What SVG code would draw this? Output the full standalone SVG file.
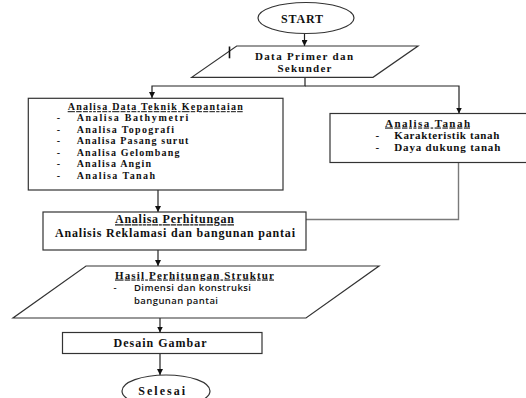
<svg xmlns="http://www.w3.org/2000/svg" width="526" height="398" viewBox="0 0 526 398">
<style>
.shape{fill:#fff;stroke:#333;stroke-width:1.2}
.conn{fill:none;stroke:#222;stroke-width:1.2}
.gray{fill:none;stroke:#7a7a7a;stroke-width:1.4}
.t{font-family:"Liberation Serif","Times New Roman",serif;font-weight:bold;font-size:12px;fill:#111}
.l{font-size:10px}
.m{font-size:11px}
.u{text-decoration:underline}
.s{font-family:"Open Sans","Liberation Sans",sans-serif;font-weight:600;font-size:9.5px;fill:#111}
</style>
<defs>
<marker id="ah" viewBox="0 0 10 10" refX="10" refY="5" markerWidth="6" markerHeight="6" markerUnits="userSpaceOnUse" orient="auto">
<path d="M0,0 L10,5 L0,10 z" fill="#111"/>
</marker>
</defs>
<rect width="526" height="398" fill="#fff"/>
<g id="connectors">
<line class="conn" x1="304.5" y1="33.5" x2="304.5" y2="46" marker-end="url(#ah)"/>
<polyline class="conn" points="305,77.5 305,86 152,86 152,98" marker-end="url(#ah)"/>
<polyline class="conn" points="305,86 459,86 459,113.5" marker-end="url(#ah)"/>
<line class="conn" x1="158" y1="190" x2="158" y2="212" marker-end="url(#ah)"/>
<polyline class="gray" points="458.5,162.5 458.5,219.5 306,219.5"/>
<line class="conn" x1="158" y1="250" x2="158" y2="266" marker-end="url(#ah)"/>
<line class="conn" x1="160" y1="318" x2="160" y2="332.5" marker-end="url(#ah)"/>
<line class="conn" x1="160" y1="353.5" x2="160" y2="375" marker-end="url(#ah)"/>
</g>
<g id="start">
<ellipse class="shape" cx="306" cy="18" rx="48" ry="15.5"/>
<text class="t" x="302" y="23.3" text-anchor="middle" textLength="42">START</text>
</g>
<g id="data-primer">
<polygon class="shape" points="236.7,46 418,46 373,77.3 191.7,77.3"/>
<line x1="229.5" y1="46.5" x2="229.5" y2="58.3" stroke="#111" stroke-width="1.6"/>
<text class="t m" x="304" y="59.5" text-anchor="middle" textLength="98">Data Primer dan</text>
<text class="t m" x="304.5" y="71.7" text-anchor="middle" textLength="54">Sekunder</text>
</g>
<g id="analisa-data">
<rect class="shape" x="28.3" y="98.3" width="254.7" height="91.7"/>
<text class="t l u" x="155.2" y="110.2" text-anchor="middle" textLength="175">Analisa Data Teknik Kepantaian</text>
<text class="t l" x="56.7" y="121">-</text>
<text class="t l" x="76.7" y="121" textLength="111.7">Analisa Bathymetri</text>
<text class="t l" x="56.7" y="132.5">-</text>
<text class="t l" x="76.7" y="132.5" textLength="97.3">Analisa Topografi</text>
<text class="t l" x="56.7" y="144">-</text>
<text class="t l" x="76.7" y="144" textLength="111.7">Analisa Pasang surut</text>
<text class="t l" x="56.7" y="155.5">-</text>
<text class="t l" x="76.7" y="155.5" textLength="102.7">Analisa Gelombang</text>
<text class="t l" x="56.7" y="167">-</text>
<text class="t l" x="76.7" y="167" textLength="74.3">Analisa Angin</text>
<text class="t l" x="56.7" y="178.5">-</text>
<text class="t l" x="76.7" y="178.5" textLength="78.3">Analisa Tanah</text>
</g>
<g id="analisa-tanah">
<rect class="shape" x="330" y="113.5" width="200" height="49"/>
<text class="t m u" x="427.5" y="126.5" text-anchor="middle" textLength="85">Analisa Tanah</text>
<text class="t m" x="375.5" y="138.5">-</text>
<text class="t m" x="394.3" y="138.5" textLength="105">Karakteristik tanah</text>
<text class="t m" x="375.5" y="150.7">-</text>
<text class="t m" x="394.3" y="150.7" textLength="106">Daya dukung tanah</text>
</g>
<g id="analisa-perhitungan">
<rect class="shape" x="43" y="212" width="263" height="38"/>
<text class="t u" x="174.5" y="223.3" text-anchor="middle" textLength="119">Analisa Perhitungan</text>
<text class="t" x="175" y="237.3" text-anchor="middle" textLength="240">Analisis Reklamasi dan bangunan pantai</text>
</g>
<g id="hasil">
<polygon class="shape" points="86,266 379,266 306,318 13,318"/>
<text class="t m u" x="194.5" y="278.5" text-anchor="middle" textLength="159">Hasil Perhitungan Struktur</text>
<text class="s" x="113.5" y="291">-</text>
<text class="s" x="134" y="291" textLength="117">Dimensi dan konstruksi</text>
<text class="s" x="134" y="304" textLength="84">bangunan pantai</text>
</g>
<g id="desain">
<rect class="shape" x="62.5" y="332.5" width="199.5" height="21"/>
<text class="t" x="160" y="346.7" text-anchor="middle" textLength="93">Desain Gambar</text>
</g>
<g id="selesai">
<ellipse class="shape" cx="166" cy="391" rx="44" ry="16"/>
<text class="t" x="161.7" y="395" text-anchor="middle" textLength="47">Selesai</text>
</g>
</svg>
